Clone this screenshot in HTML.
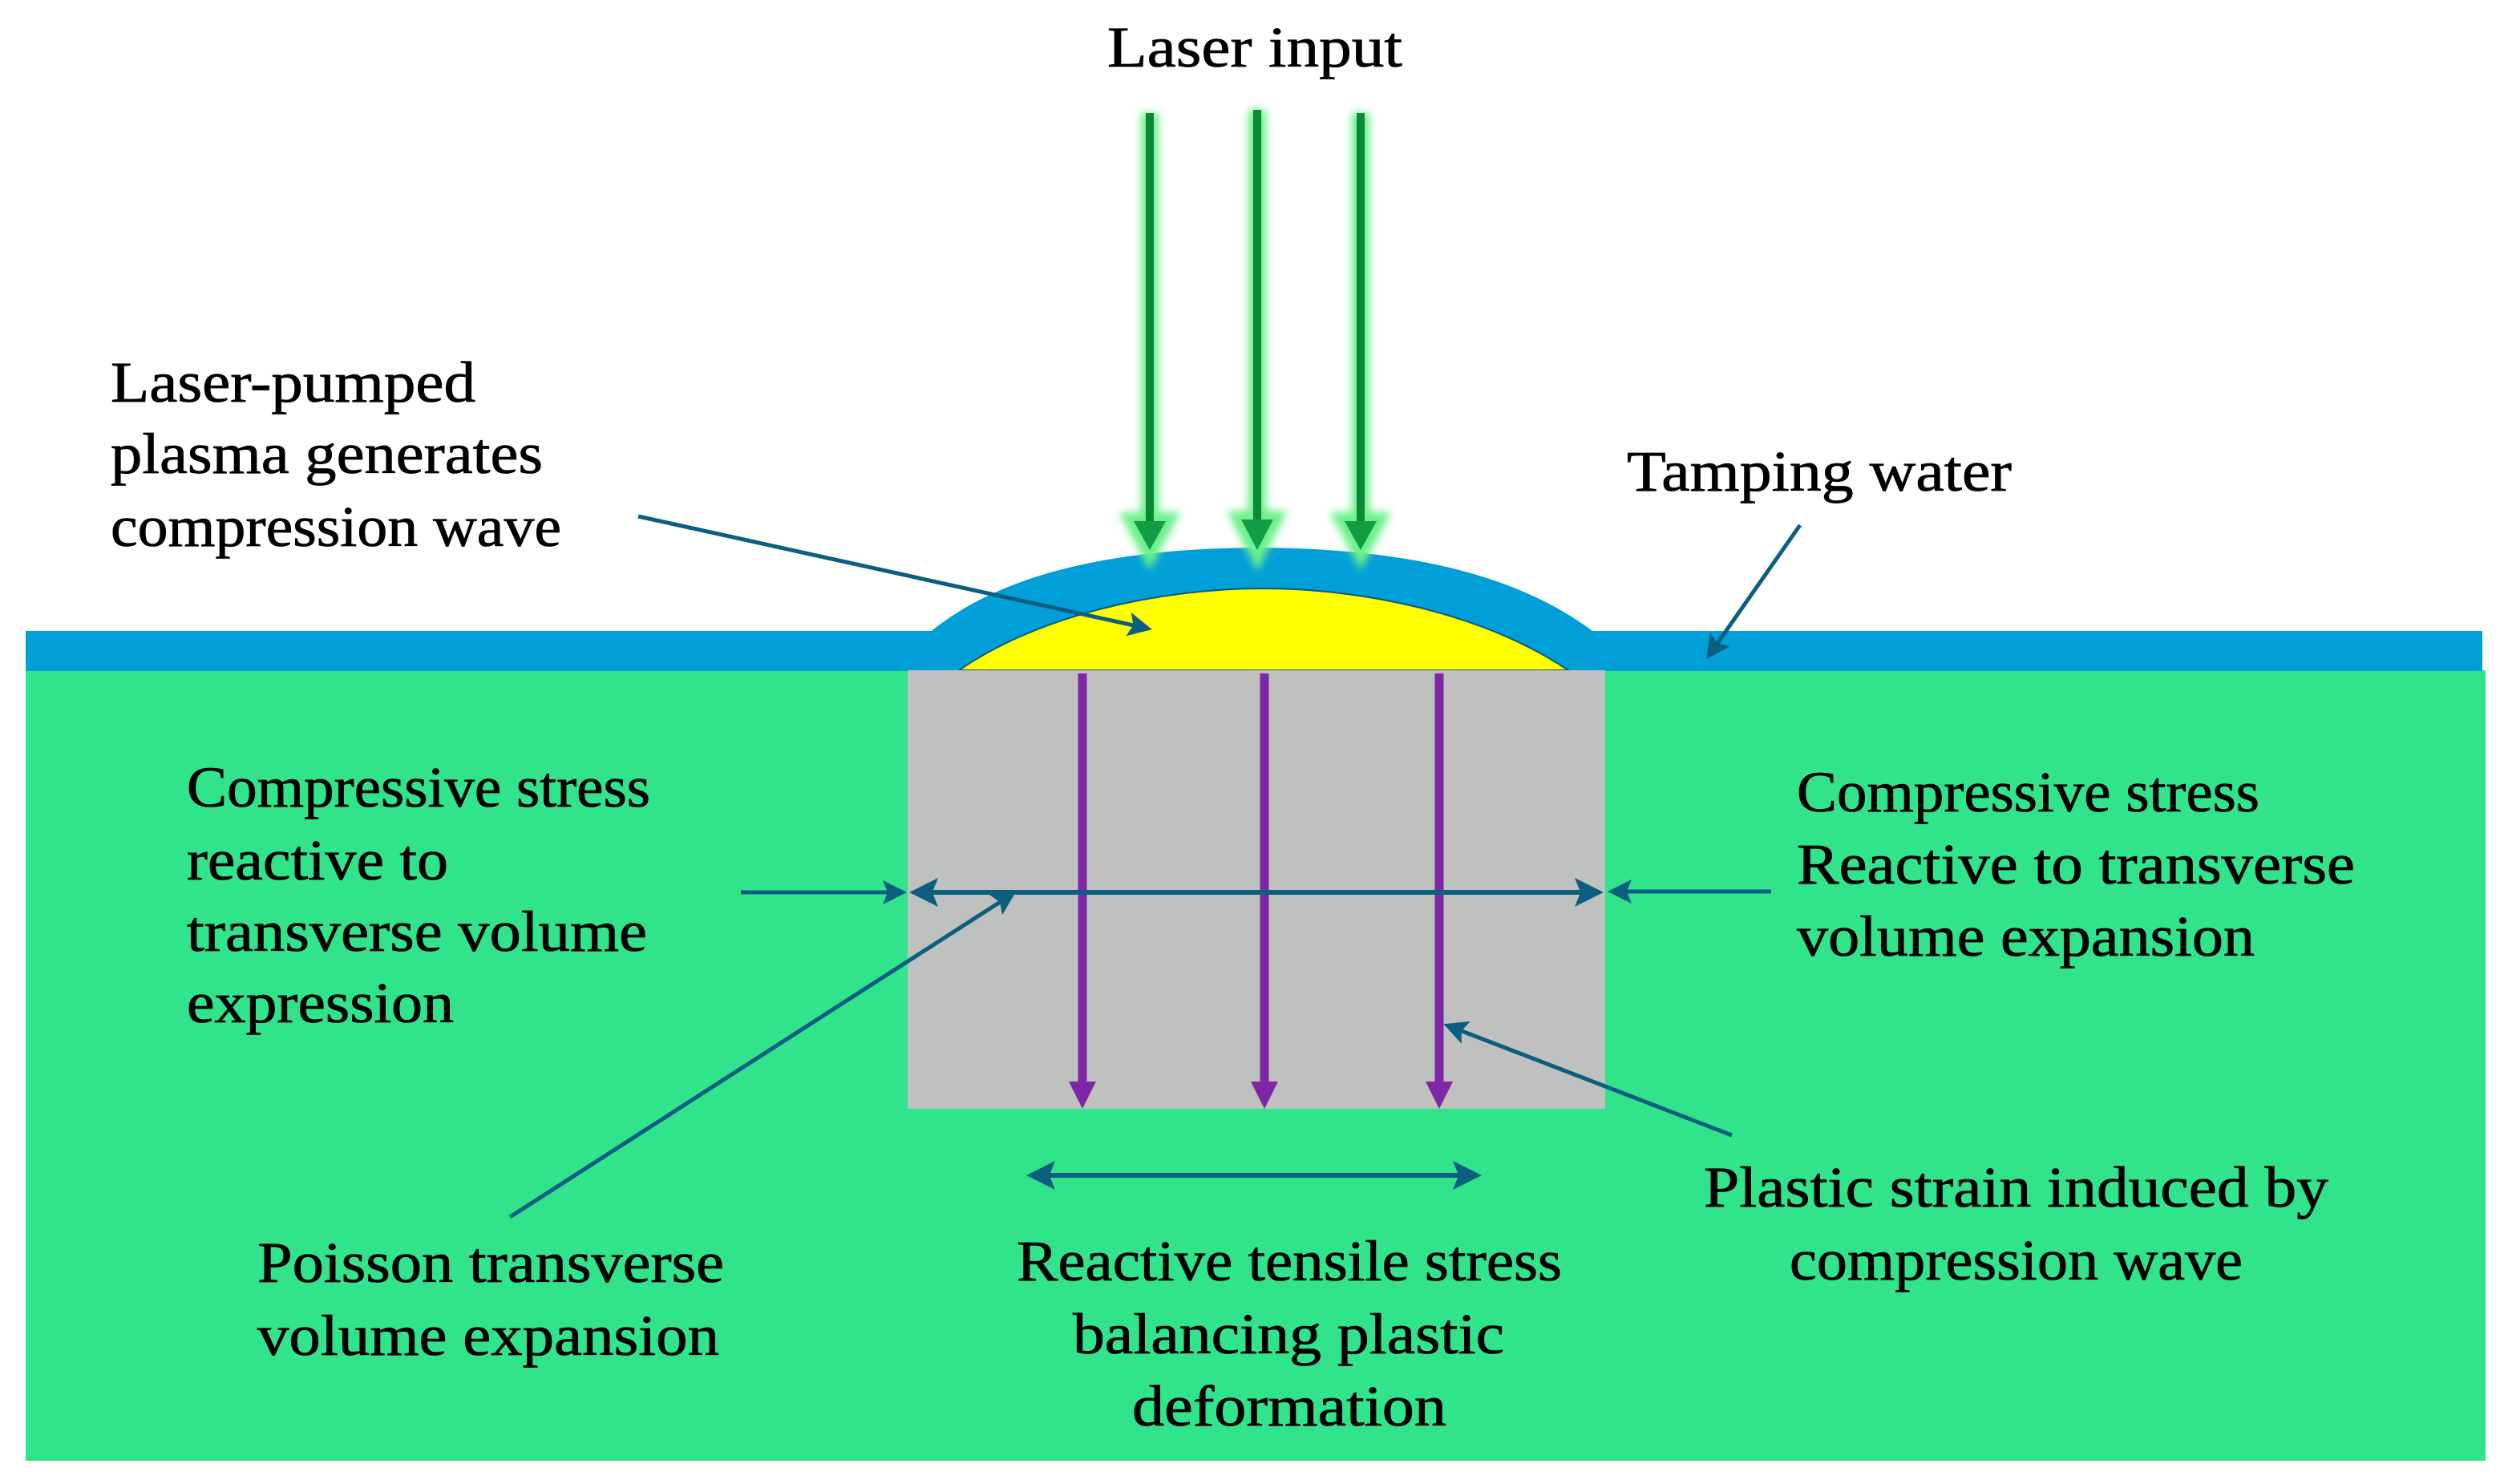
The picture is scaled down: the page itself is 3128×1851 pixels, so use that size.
<!DOCTYPE html>
<html><head><meta charset="utf-8"><style>html,body{margin:0;padding:0;background:#fff}svg{display:block}</style></head>
<body>
<svg width="3128" height="1851" viewBox="0 0 3128 1851" xmlns="http://www.w3.org/2000/svg">
<defs>
<marker id="ab" markerWidth="6" markerHeight="6" refX="5" refY="3" orient="auto" markerUnits="strokeWidth"><path d="M0,0 L6,3 L0,6 L1.2,3 Z" fill="#0b5e80"/></marker>
<marker id="abs" markerWidth="6" markerHeight="6" refX="1" refY="3" orient="auto" markerUnits="strokeWidth"><path d="M6,0 L0,3 L6,6 L4.8,3 Z" fill="#0b5e80"/></marker>
<filter id="glow" x="-2" y="-0.2" width="5" height="1.4"><feGaussianBlur stdDeviation="5"/></filter>
</defs>
<rect x="32" y="836" width="3068" height="986" fill="#31e48c"/>
<rect x="32" y="787" width="3064" height="50" fill="#009fd8"/>
<path d="M1156 837 L1158 790 C1260 705 1420 684 1570 683 C1720 684 1880 705 1990 790 L1992 837 Z" fill="#009fd8"/>
<path d="M1196 836 C1300 765 1450 734 1575 734 C1700 734 1850 765 1956 836 Z" fill="#ffff00" stroke="#0a5a7a" stroke-width="2"/>
<rect x="1132" y="836" width="870" height="547" fill="#bec1bd"/>
<g stroke="#7d27a6" stroke-width="11">
<line x1="1350" y1="840" x2="1350" y2="1355"/>
<line x1="1577" y1="840" x2="1577" y2="1355"/>
<line x1="1795" y1="840" x2="1795" y2="1355"/>
</g>
<g fill="#7d27a6">
<path d="M1333 1349 L1367 1349 L1350 1383 Z"/>
<path d="M1560 1349 L1594 1349 L1577 1383 Z"/>
<path d="M1778 1349 L1812 1349 L1795 1383 Z"/>
</g>
<g>
<g filter="url(#glow)" stroke="#6cf08a" stroke-width="22" fill="#6cf08a">
<line x1="1434" y1="141" x2="1434" y2="660"/><line x1="1568" y1="137" x2="1568" y2="660"/><line x1="1697" y1="141" x2="1697" y2="660"/>
<path d="M1414 650 L1454 650 L1434 688 Z"/><path d="M1548 648 L1588 648 L1568 688 Z"/><path d="M1677 650 L1717 650 L1697 688 Z"/>
</g>
<g stroke="#0b8a36" stroke-width="10" fill="#0e9a40">
<line x1="1434" y1="141" x2="1434" y2="655"/><line x1="1568" y1="137" x2="1568" y2="655"/><line x1="1697" y1="141" x2="1697" y2="655"/>
</g>
<g fill="#129c44">
<path d="M1414 650 L1454 650 L1434 686 Z"/><path d="M1548 648 L1588 648 L1568 686 Z"/><path d="M1677 650 L1717 650 L1697 686 Z"/>
</g>
</g>
<line x1="1140" y1="1113" x2="1994" y2="1113" stroke="#0b5e80" stroke-width="6" marker-end="url(#ab)" marker-start="url(#abs)"/>
<g stroke="#0b5e80" stroke-width="5" fill="none" marker-end="url(#ab)">
<line x1="924" y1="1113" x2="1126" y2="1113"/>
<line x1="2209" y1="1112" x2="2010" y2="1112"/>
<line x1="796" y1="644" x2="1432" y2="784"/>
<line x1="2245" y1="655" x2="2131" y2="818"/>
<line x1="636" y1="1518" x2="1263" y2="1115"/>
<line x1="2160" y1="1416" x2="1805" y2="1279"/>
</g>
<line x1="1286" y1="1466" x2="1842" y2="1466" stroke="#0b5e80" stroke-width="6" marker-end="url(#ab)" marker-start="url(#abs)"/>
<g font-family="Liberation Serif, serif" font-size="72" fill="#000" stroke="#000" stroke-width="0.8">
<text x="1381" y="83" textLength="368" lengthAdjust="spacingAndGlyphs">Laser input</text>
<text x="138" y="501" textLength="455" lengthAdjust="spacingAndGlyphs">Laser-pumped</text>
<text x="138" y="590" textLength="539" lengthAdjust="spacingAndGlyphs">plasma generates</text>
<text x="138" y="681" textLength="562" lengthAdjust="spacingAndGlyphs">compression wave</text>
<text x="2029" y="612" textLength="480" lengthAdjust="spacingAndGlyphs">Tamping water</text>
<text x="233" y="1006" textLength="578" lengthAdjust="spacingAndGlyphs">Compressive stress</text>
<text x="233" y="1097" textLength="326" lengthAdjust="spacingAndGlyphs">reactive to</text>
<text x="233" y="1186" textLength="574" lengthAdjust="spacingAndGlyphs">transverse volume</text>
<text x="233" y="1275" textLength="333" lengthAdjust="spacingAndGlyphs">expression</text>
<text x="2241" y="1012" textLength="577" lengthAdjust="spacingAndGlyphs">Compressive stress</text>
<text x="2241" y="1102" textLength="696" lengthAdjust="spacingAndGlyphs">Reactive to transverse</text>
<text x="2241" y="1192" textLength="571" lengthAdjust="spacingAndGlyphs">volume expansion</text>
<text x="321" y="1599" textLength="582" lengthAdjust="spacingAndGlyphs">Poisson transverse</text>
<text x="321" y="1690" textLength="576" lengthAdjust="spacingAndGlyphs">volume expansion</text>
<text x="1268" y="1597" textLength="680" lengthAdjust="spacingAndGlyphs">Reactive tensile stress</text>
<text x="1338" y="1688" textLength="538" lengthAdjust="spacingAndGlyphs">balancing plastic</text>
<text x="1412" y="1778" textLength="392" lengthAdjust="spacingAndGlyphs">deformation</text>
<text x="2125" y="1505" textLength="779" lengthAdjust="spacingAndGlyphs">Plastic strain induced by</text>
<text x="2232" y="1596" textLength="565" lengthAdjust="spacingAndGlyphs">compression wave</text>
</g>
</svg>
</body></html>
